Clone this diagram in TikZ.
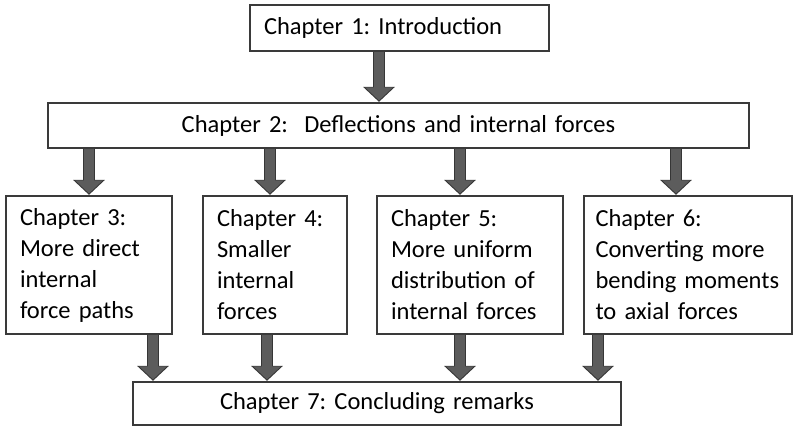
\documentclass[tikz,border=0pt]{standalone}
\usepackage{fontspec}
\setmainfont{Carlito}
\usetikzlibrary{arrows.meta}
\frenchspacing

\definecolor{arrowgray}{HTML}{5C5C5C}
\definecolor{arrowedge}{HTML}{363636}
\definecolor{boxline}{HTML}{3A3A3A}

\begin{document}
\begin{tikzpicture}[x=1pt,y=-1pt,
  chap/.style={draw=boxline, line width=1.3pt, rectangle, inner xsep=14pt, inner ysep=0pt,
    font=\fontsize{24.5}{31}\selectfont, align=left},
  fat/.style={draw=arrowgray, line width=10pt, shorten >=2pt,
    -{Triangle[width=27pt,length=13pt]},
    preaction={draw=arrowedge, line width=12.5pt, shorten >=0.5pt,
      -{Triangle[width=31pt,length=15pt]}}}]

\useasboundingbox (0,0) rectangle (793,426);

% chapters
\node[chap, text width=271pt, minimum height=46pt] (ch1) at (399.5,28) {Chapter 1: Introduction};
\node[chap, text width=673pt, minimum height=45pt, align=center] (ch2) at (398.5,125.5) {Chapter 2:~ Deflections and internal forces};

\node[chap, text width=138pt, minimum height=138pt] (ch3) at (89,265) {Chapter 3:\\More direct\\internal\\force paths};
\node[chap, text width=116pt, minimum height=138pt] (ch4) at (275,265) {Chapter 4:\\Smaller\\internal\\forces};
\node[chap, text width=158pt, minimum height=138pt] (ch5) at (470,265) {Chapter 5:\\More uniform\\distribution of\\internal forces};
\node[chap, text width=185pt, inner xsep=11.5pt, minimum height=138pt] (ch6) at (688,265) {Chapter 6:\\Converting more\\bending moments\\to axial forces};

\node[chap, text width=460pt, minimum height=43pt, align=center] (ch7) at (377,403.5) {Chapter 7: Concluding remarks};

% arrows
\draw[fat] ([xshift=-20.5pt]ch1.south) -- ([xshift=-20.5pt]ch1.south |- ch2.north);

\draw[fat] (ch3.north |- ch2.south) -- (ch3.north);
\draw[fat] ([xshift=-5pt]ch4.north |- ch2.south) -- ([xshift=-5pt]ch4.north);
\draw[fat] ([xshift=-10pt]ch5.north |- ch2.south) -- ([xshift=-10pt]ch5.north);
\draw[fat] ([xshift=-12pt]ch6.north |- ch2.south) -- ([xshift=-12pt]ch6.north);

\draw[fat] ([xshift=64pt]ch3.south) -- ([xshift=64pt]ch3.south |- ch7.north);
\draw[fat] ([xshift=-8pt]ch4.south) -- ([xshift=-8pt]ch4.south |- ch7.north);
\draw[fat] ([xshift=-10pt]ch5.south) -- ([xshift=-10pt]ch5.south |- ch7.north);
\draw[fat] ([xshift=-90pt]ch6.south) -- ([xshift=-90pt]ch6.south |- ch7.north);
\end{tikzpicture}
\end{document}
